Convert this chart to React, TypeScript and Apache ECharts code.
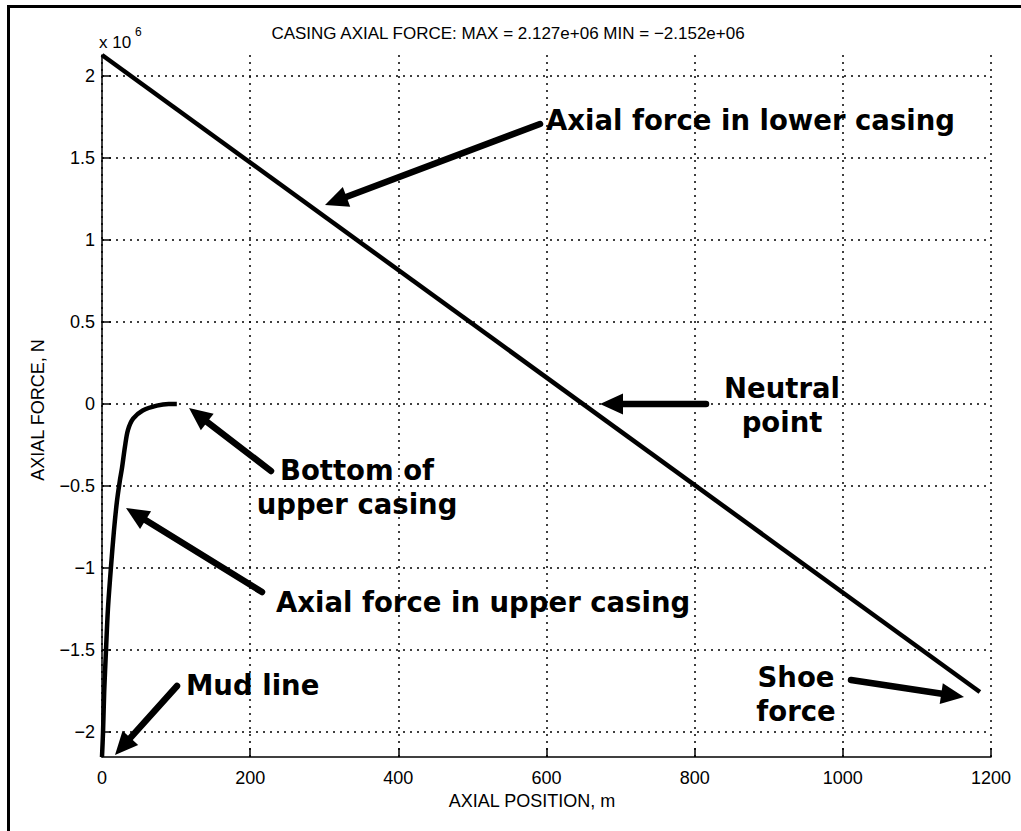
import React, { useEffect, useRef } from "react";
import * as echarts from "echarts";

const xTicks = [0, 200, 400, 600, 800, 1000, 1200];
const yTicks = [-2, -1.5, -1, -0.5, 0, 0.5, 1, 1.5, 2];
const yMin = -2.152;
const yMax = 2.127;
const xMax = 1200;
const lowerX = [0, 1185];
const lowerY = [2.127, -1.756];
const upperX = [0, 1.4, 3, 5.4, 8, 12, 16, 20, 24, 27, 31, 35, 42, 55, 74, 90, 101];
const upperY = [-2.152, -2.0, -1.75, -1.5, -1.25, -1.0, -0.78, -0.6, -0.47, -0.39, -0.26, -0.16, -0.09, -0.04, -0.01, 0, 0];
const titleText = "CASING AXIAL FORCE: MAX = 2.127e+06 MIN = \u22122.152e+06";

const minus = (s: string) => s.replace("-", "\u2212");

function arrow(x1: number, y1: number, x2: number, y2: number) {
  const dx = x2 - x1, dy = y2 - y1;
  const len = Math.sqrt(dx * dx + dy * dy);
  const ux = dx / len, uy = dy / len;
  const L = 23, W = 10.5;
  const bx = x2 - ux * L, by = y2 - uy * L;
  const px = -uy, py = ux;
  return [
    {
      type: "line",
      shape: { x1, y1, x2: x2 - ux * (L - 4), y2: y2 - uy * (L - 4) },
      style: { stroke: "#000", lineWidth: 6.5, lineCap: "round" },
      silent: true,
    },
    {
      type: "polygon",
      shape: { points: [[x2, y2], [bx + px * W, by + py * W], [bx - px * W, by - py * W]] },
      style: { fill: "#000" },
      silent: true,
    },
  ];
}

const boldFont = "bold 27.5px 'DejaVu Sans', Verdana, sans-serif";

function label(text: string, x: number, y: number, align: string = "left") {
  return {
    type: "text",
    x,
    y,
    silent: true,
    style: {
      text,
      font: boldFont,
      fill: "#000",
      align,
      verticalAlign: "middle",
      lineHeight: 34,
    },
  };
}

export default function App() {
  const ref = useRef<HTMLDivElement>(null);
  useEffect(() => {
    if (!ref.current) return;
    const chart = echarts.init(ref.current, null, { renderer: "svg" });
    const axisFont = { fontFamily: "'Liberation Sans', Arial, sans-serif", fontSize: 18, color: "#000" };
    const gridStyle = { color: "#000", width: 1.5, type: [2, 5] as any };
    chart.setOption({
      animation: false,
      backgroundColor: "#fff",
      grid: { left: 102, right: 30, top: 55, bottom: 74, containLabel: false },
      xAxis: {
        type: "value",
        min: 0,
        max: xMax,
        interval: 200,
        axisLine: { show: true, onZero: false, lineStyle: { color: "#000", width: 1.5 } },
        axisTick: { show: true, inside: true, length: 9, lineStyle: { color: "#000", width: 1.5 } },
        axisLabel: { ...axisFont, margin: 12, formatter: (v: number) => String(v) },
        splitLine: { show: true, lineStyle: gridStyle },
      },
      yAxis: {
        type: "value",
        min: yMin,
        max: yMax,
        axisLine: { show: true, onZero: false, lineStyle: { color: "#000", width: 1.5 } },
        axisTick: { show: true, inside: true, length: 9, customValues: yTicks, lineStyle: { color: "#000", width: 1.5 } },
        axisLabel: {
          ...axisFont,
          margin: 7,
          customValues: yTicks,
          formatter: (v: number) => minus(String(v)),
        },
        splitLine: { show: false },
      },
      series: [
        {
          type: "line",
          name: "lower",
          data: lowerX.map((x, i) => [x, lowerY[i]]),
          showSymbol: false,
          symbol: "none",
          lineStyle: { color: "#000", width: 4.5 },
          z: 5,
          markLine: {
            silent: true,
            symbol: "none",
            label: { show: false },
            lineStyle: gridStyle,
            data: yTicks.map((v) => ({ yAxis: v })),
            z: 1,
          },
        },
        {
          type: "line",
          name: "upper",
          data: upperX.map((x, i) => [x, upperY[i]]),
          showSymbol: false,
          symbol: "none",
          smooth: 0.3,
          lineStyle: { color: "#000", width: 4.5 },
          z: 5,
        },
      ],
      graphic: [
        { type: "line", shape: { x1: 8.5, y1: 5, x2: 8.5, y2: 831 }, style: { stroke: "#000", lineWidth: 3 }, silent: true },
        { type: "line", shape: { x1: 7, y1: 6.5, x2: 1021, y2: 6.5 }, style: { stroke: "#000", lineWidth: 3 }, silent: true },
        {
          type: "text", x: 508, y: 33, silent: true,
          style: { text: titleText, font: "17px 'Liberation Sans', Arial, sans-serif", fill: "#000", align: "center", verticalAlign: "middle" },
        },
        {
          type: "text", x: 532, y: 801, silent: true,
          style: { text: "AXIAL POSITION, m", font: "18px 'Liberation Sans', Arial, sans-serif", fill: "#000", align: "center", verticalAlign: "middle" },
        },
        {
          type: "text", x: 38, y: 410, rotation: Math.PI / 2, silent: true,
          style: { text: "AXIAL FORCE, N", font: "18px 'Liberation Sans', Arial, sans-serif", fill: "#000", align: "center", verticalAlign: "middle" },
        },
        {
          type: "text", x: 99, y: 42, silent: true,
          style: { text: "x 10", font: "17px 'Liberation Sans', Arial, sans-serif", fill: "#000", align: "left", verticalAlign: "middle" },
        },
        {
          type: "text", x: 135, y: 32, silent: true,
          style: { text: "6", font: "12px 'Liberation Sans', Arial, sans-serif", fill: "#000", align: "left", verticalAlign: "middle" },
        },
        label("Axial force in lower casing", 546, 120),
        ...arrow(540, 124, 325, 205),
        label("Neutral\npoint", 782, 405, "center"),
        ...arrow(706, 404, 600, 404),
        label("Bottom of\nupper casing", 357, 487, "center"),
        ...arrow(271, 471, 189, 408),
        label("Axial force in upper casing", 276, 602),
        ...arrow(262, 592, 126, 508),
        label("Mud line", 186, 685),
        ...arrow(177, 686, 115, 755),
        label("Shoe\nforce", 796, 694, "center"),
        ...arrow(851, 680, 964, 697),
      ],
    });
    return () => chart.dispose();
  }, []);
  return <div ref={ref} style={{ position: "absolute", left: 0, top: 0, width: 1021, height: 831 }} />;
}
